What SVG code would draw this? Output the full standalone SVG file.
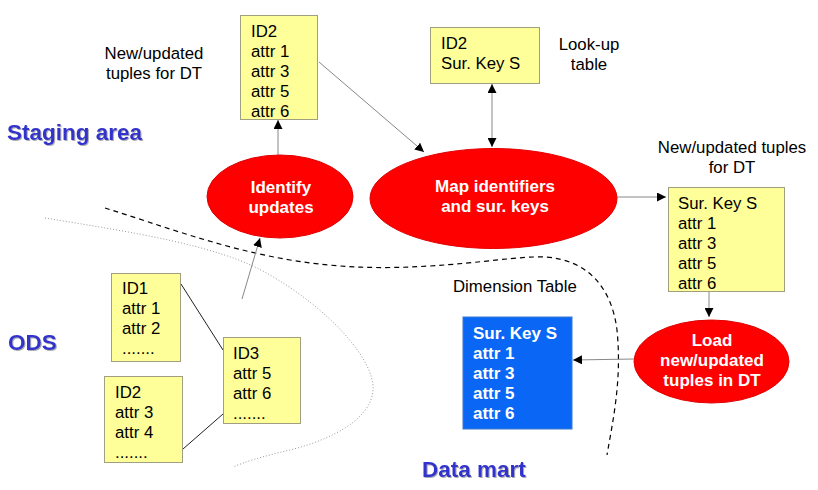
<svg xmlns="http://www.w3.org/2000/svg" width="818" height="490" viewBox="0 0 818 490">
<style>
.t{font-family:"Liberation Sans",Arial,sans-serif;font-size:16.8px;fill:#000}
.b{font-family:"Liberation Sans",Arial,sans-serif;font-size:17px;font-weight:bold;fill:#fff}
.lbl{font-family:"Liberation Sans",Arial,sans-serif;font-size:22.5px;font-weight:bold;fill:#3333cc}
.box{fill:#ffff99;stroke:#a0a080;stroke-width:1}
.ell{fill:#ff0000;stroke:#e00000;stroke-width:1}
.con{fill:none;stroke:#888;stroke-width:1}
.lnk{fill:none;stroke:#222;stroke-width:1}
</style>
<defs>
<marker id="ah" viewBox="0 0 10 10" refX="10" refY="5" markerWidth="9" markerHeight="9" markerUnits="userSpaceOnUse" orient="auto-start-reverse">
<path d="M0,0 L10,5 L0,10 z" fill="#000"/>
</marker>
<filter id="sh" x="-5%" y="-20%" width="115%" height="150%">
<feDropShadow dx="1" dy="1" stdDeviation="0.6" flood-color="#999" flood-opacity="0.8"/>
</filter>
</defs>
<rect width="818" height="490" fill="#fff"/>

<g id="boundaries">
<path d="M105,208 C160,225 220,248 290,260 C340,268 380,269 430,266 C480,263 520,256 545,257 C590,260 612,290 617,330 C622,380 613,420 607,455" fill="none" stroke="#000" stroke-width="1.2" stroke-dasharray="5,4"/>
<path d="M45,218 C130,232 220,245 270,275 C330,310 375,360 373,390 C371,420 330,440 290,450 C260,457 245,462 233,467" fill="none" stroke="#999" stroke-width="1" stroke-dasharray="1,2"/>
</g>

<g id="labels">
<text class="lbl" x="7" y="140" filter="url(#sh)">Staging area</text>
<text class="lbl" x="8" y="350" filter="url(#sh)">ODS</text>
<text class="lbl" x="422" y="477" filter="url(#sh)">Data mart</text>
<text class="t" x="154" y="59" text-anchor="middle">New/updated</text>
<text class="t" x="154" y="79" text-anchor="middle">tuples for DT</text>
<text class="t" x="589" y="50" text-anchor="middle">Look-up</text>
<text class="t" x="589" y="70" text-anchor="middle">table</text>
<text class="t" x="732" y="153" text-anchor="middle">New/updated tuples</text>
<text class="t" x="732" y="173" text-anchor="middle">for DT</text>
<text class="t" x="453" y="292">Dimension Table</text>
</g>

<g id="connectors">
<line class="con" x1="278" y1="155" x2="278" y2="120" marker-end="url(#ah)"/>
<line class="con" x1="319" y1="62" x2="424" y2="152" marker-end="url(#ah)"/>
<line class="con" x1="492" y1="84" x2="492" y2="147" marker-start="url(#ah)" marker-end="url(#ah)"/>
<line class="con" x1="617" y1="197" x2="666" y2="197" marker-end="url(#ah)"/>
<line class="con" x1="709" y1="292" x2="709" y2="317" marker-end="url(#ah)"/>
<line class="con" x1="634" y1="359" x2="573" y2="360" marker-end="url(#ah)"/>
<line class="con" x1="242" y1="299" x2="260" y2="238" marker-end="url(#ah)"/>
<line class="lnk" x1="181" y1="284" x2="223" y2="350"/>
<line class="lnk" x1="183" y1="449" x2="223" y2="414"/>
</g>

<g id="staging-tuples">
<rect class="box" x="240.5" y="15.5" width="77" height="104"/>
<text class="t" x="251" y="37">ID2</text>
<text class="t" x="251" y="57">attr 1</text>
<text class="t" x="251" y="77">attr 3</text>
<text class="t" x="251" y="97">attr 5</text>
<text class="t" x="251" y="117">attr 6</text>
</g>

<g id="lookup-table">
<rect class="box" x="430.5" y="27.5" width="109" height="56"/>
<text class="t" x="441" y="49">ID2</text>
<text class="t" x="441" y="69">Sur. Key S</text>
</g>

<g id="identify-updates">
<ellipse class="ell" cx="280" cy="196.5" rx="73" ry="41.5"/>
<text class="b" x="281" y="193" text-anchor="middle">Identify</text>
<text class="b" x="281" y="213" text-anchor="middle">updates</text>
</g>

<g id="map-identifiers">
<ellipse class="ell" cx="493.5" cy="198.5" rx="123.5" ry="50"/>
<text class="b" x="495" y="192" text-anchor="middle">Map identifiers</text>
<text class="b" x="495" y="212" text-anchor="middle">and sur. keys</text>
</g>

<g id="dt-tuples">
<rect class="box" x="668.5" y="187.5" width="116" height="104"/>
<text class="t" x="678" y="209">Sur. Key S</text>
<text class="t" x="678" y="229">attr 1</text>
<text class="t" x="678" y="249">attr 3</text>
<text class="t" x="678" y="269">attr 5</text>
<text class="t" x="678" y="289">attr 6</text>
</g>

<g id="load-tuples">
<ellipse class="ell" cx="711.5" cy="361.5" rx="77.5" ry="41.5"/>
<text class="b" x="712" y="346" text-anchor="middle">Load</text>
<text class="b" x="712" y="366" text-anchor="middle">new/updated</text>
<text class="b" x="712" y="386" text-anchor="middle">tuples in DT</text>
</g>

<g id="dimension-table">
<rect x="463" y="317" width="109" height="112" fill="#0a66f5" stroke="#3a7ad0" stroke-width="1"/>
<text class="b" x="473" y="339">Sur. Key S</text>
<text class="b" x="473" y="359">attr 1</text>
<text class="b" x="473" y="379">attr 3</text>
<text class="b" x="473" y="399">attr 5</text>
<text class="b" x="473" y="419">attr 6</text>
</g>

<g id="ods-id1">
<rect class="box" x="111.5" y="273.5" width="69" height="88"/>
<text class="t" x="122" y="294">ID1</text>
<text class="t" x="122" y="314">attr 1</text>
<text class="t" x="122" y="334">attr 2</text>
<text class="t" x="122" y="354">.......</text>
</g>

<g id="ods-id2">
<rect class="box" x="104.5" y="376.5" width="78" height="86"/>
<text class="t" x="115" y="398">ID2</text>
<text class="t" x="115" y="418">attr 3</text>
<text class="t" x="115" y="438">attr 4</text>
<text class="t" x="115" y="458">.......</text>
</g>

<g id="ods-id3">
<rect class="box" x="223.5" y="337.5" width="77" height="86"/>
<text class="t" x="233" y="359">ID3</text>
<text class="t" x="233" y="379">attr 5</text>
<text class="t" x="233" y="399">attr 6</text>
<text class="t" x="233" y="419">.......</text>
</g>
</svg>
